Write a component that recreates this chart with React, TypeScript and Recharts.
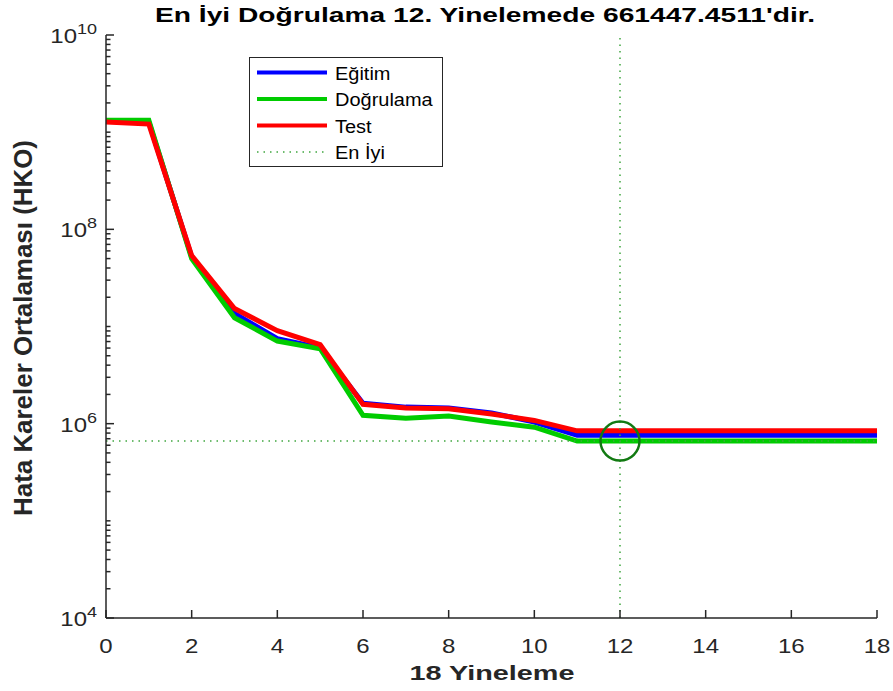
import React from 'react';
import {
  LineChart,
  Line,
  XAxis,
  YAxis,
  ReferenceLine,
  ReferenceDot,
  Legend,
  Customized,
} from 'recharts';

// iterations (epochs) 0..18
const iterations = [0, 1, 2, 3, 4, 5, 6, 7, 8, 9, 10, 11, 12, 13, 14, 15, 16, 17, 18];

// mean squared error per iteration
const egitim = [
  1.3e9, 1.27e9, 5.2e7, 1.36e7, 7.5e6, 6.03e6, 1.62e6, 1.48e6, 1.45e6, 1.29e6, 1.04e6,
  758000, 758000, 758000, 758000, 758000, 758000, 758000, 758000,
];
const dogrulama = [
  1.33e9, 1.33e9, 5.0e7, 1.23e7, 7.08e6, 5.9e6, 1.22e6, 1.14e6, 1.2e6, 1.04e6, 9.2e5,
  661447, 661447, 661447, 661447, 661447, 661447, 661447, 661447,
];
const test = [
  1.27e9, 1.21e9, 5.38e7, 1.53e7, 9.06e6, 6.5e6, 1.58e6, 1.45e6, 1.42e6, 1.26e6, 1.08e6,
  843000, 843000, 843000, 843000, 843000, 843000, 843000, 843000,
];

const bestEpoch = 12;
const bestValue = 661447.4511;

const xTicks = [0, 2, 4, 6, 8, 10, 12, 14, 16, 18];
const yMajorTicks = [1e4, 1e6, 1e8, 1e10];

const title = "En İyi Doğrulama 12. Yinelemede 661447.4511'dir.";
const xLabel = '18 Yineleme';
const yLabel = 'Hata Kareler Ortalaması (HKO)';

const seriesNames = ['Eğitim', 'Doğrulama', 'Test', 'En İyi'];

// minor log ticks 2..9 x 10^k plus the unlabeled decades
const yMinorTicks: number[] = [];
for (let k = 4; k < 10; k++) {
  for (let m = 1; m <= 9; m++) {
    const v = m * Math.pow(10, k);
    if (!yMajorTicks.includes(v)) yMinorTicks.push(v);
  }
}
const yTicks = [...yMajorTicks, ...yMinorTicks].sort((a, b) => a - b);

const data = iterations.map((it, i) => ({
  it,
  egitim: egitim[i],
  dogrulama: dogrulama[i],
  test: test[i],
}));

const AXIS = '#262626';
const FONT = '"Liberation Sans", Arial, sans-serif';
const BLUE = '#0000ff';
const GREEN = '#00cc00';
const RED = '#ff0000';
const BEST = '#3fa63f';

const W = 893;
const H = 691;
const PLOT_LEFT = 106;
const PLOT_RIGHT = 877;
const PLOT_TOP = 35;
const PLOT_BOTTOM = 618;
// the source figure is stretched sideways, so are its glyphs
const STRETCH = 1.2;

const YTick = (props: any) => {
  const { x, y, payload } = props;
  const v = payload.value;
  const major = yMajorTicks.includes(v);
  const exp = Math.round(Math.log10(v));
  return (
    <g>
      <line x1={x} x2={x + (major ? 8 : 4.5)} y1={y} y2={y} stroke={AXIS} strokeWidth={1.5} />
      {major && (
        <text
          transform={`translate(${x - 9}, ${y + 8}) scale(${STRETCH}, 1)`}
          textAnchor="end"
          fill={AXIS}
          fontFamily={FONT}
          fontSize={20}
        >
          10
          <tspan dy={-9} fontSize={15}>
            {exp}
          </tspan>
        </text>
      )}
    </g>
  );
};

const XTick = (props: any) => {
  const { x, y, payload } = props;
  return (
    <g>
      <line x1={x} x2={x} y1={y} y2={y - 8} stroke={AXIS} strokeWidth={1.5} />
      <text
        transform={`translate(${x}, ${y + 35}) scale(${STRETCH}, 1)`}
        textAnchor="middle"
        fill={AXIS}
        fontFamily={FONT}
        fontSize={20}
      >
        {payload.value}
      </text>
    </g>
  );
};

const Titles = () => (
  <g fontFamily={FONT} fontWeight="bold" fill="#000">
    <text x={485} y={22} textAnchor="middle" fontSize={21} textLength={660} lengthAdjust="spacingAndGlyphs">
      {title}
    </text>
    <text x={492} y={680} textAnchor="middle" fontSize={21} fill={AXIS} textLength={165} lengthAdjust="spacingAndGlyphs">
      {xLabel}
    </text>
    <text
      x={0}
      y={0}
      transform={`translate(32, 328) rotate(-90)`}
      textAnchor="middle"
      fontSize={25}
      fill={AXIS}
      textLength={376}
      lengthAdjust="spacingAndGlyphs"
    >
      {yLabel}
    </text>
  </g>
);

const renderLegend = () => {
  const colors = [BLUE, GREEN, RED, BEST];
  const rows = [72.5, 99, 125.5, 152];
  return (
    <svg width={194} height={110} style={{ display: 'block' }}>
      <rect x={0.5} y={0.5} width={193} height={109} fill="#fff" stroke={AXIS} strokeWidth={1} />
      {seriesNames.map((name, i) => {
        const cy = rows[i] - 57;
        return (
          <g key={name}>
            {i < 3 ? (
              <line x1={8} x2={78} y1={cy} y2={cy} stroke={colors[i]} strokeWidth={4} />
            ) : (
              <line x1={8} x2={78} y1={cy} y2={cy} stroke={colors[i]} strokeWidth={1.5} strokeDasharray="1.5 5" />
            )}
            <text
              transform={`translate(86, ${cy + 7}) scale(1.08, 1)`}
              fontFamily={FONT}
              fontSize={18.5}
              fill="#000"
            >
              {name}
            </text>
          </g>
        );
      })}
    </svg>
  );
};

export default function App() {
  return (
    <div style={{ position: 'absolute', left: 0, top: 0, width: W, height: H, background: '#fff' }}>
      <LineChart
        width={W}
        height={H}
        data={data}
        margin={{ top: PLOT_TOP, right: W - PLOT_RIGHT, bottom: 0, left: 0 }}
      >
        <XAxis
          dataKey="it"
          type="number"
          domain={[0, 18]}
          ticks={xTicks}
          interval={0}
          height={H - PLOT_BOTTOM}
          tickSize={0}
          tickMargin={0}
          tickLine={false}
          axisLine={{ stroke: AXIS, strokeWidth: 1.5 }}
          tick={<XTick />}
        />
        <YAxis
          type="number"
          scale="log"
          domain={[1e4, 1e10]}
          allowDataOverflow
          ticks={yTicks}
          interval={0}
          width={PLOT_LEFT}
          tickSize={0}
          tickMargin={0}
          tickLine={false}
          axisLine={{ stroke: AXIS, strokeWidth: 1.5 }}
          tick={<YTick />}
        />
        <Line dataKey="egitim" name="Eğitim" stroke={BLUE} strokeWidth={5} dot={false} isAnimationActive={false} />
        <Line dataKey="dogrulama" name="Doğrulama" stroke={GREEN} strokeWidth={5} dot={false} isAnimationActive={false} />
        <Line dataKey="test" name="Test" stroke={RED} strokeWidth={5} dot={false} isAnimationActive={false} />
        <ReferenceLine x={bestEpoch} stroke={BEST} strokeWidth={1.5} strokeDasharray="1.5 5" />
        <ReferenceLine y={bestValue} stroke={BEST} strokeWidth={1.5} strokeDasharray="1.5 5" />
        <ReferenceDot
          x={bestEpoch}
          y={bestValue}
          r={19.5}
          fill="none"
          stroke="#127a12"
          strokeWidth={2.5}
        />
        <Legend
          layout="horizontal"
          verticalAlign="middle"
          align="center"
          content={renderLegend}
          wrapperStyle={{ left: 249, top: 57, width: 194, height: 110 }}
        />
        <Customized component={<Titles />} />
      </LineChart>
    </div>
  );
}
